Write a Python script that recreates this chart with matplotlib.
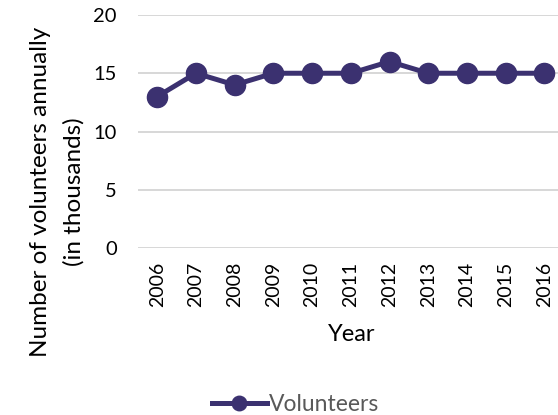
import matplotlib.pyplot as plt
import numpy as np

years = ['2006', '2007', '2008', '2009', '2010', '2011', '2012', '2013', '2014', '2015', '2016']
volunteers = [13, 15, 14, 15, 15, 15, 16, 15, 15, 15, 15]

color = '#3b3170'
plt.rcParams['font.family'] = ['Lato', 'DejaVu Sans']

fig = plt.figure(figsize=(5.58, 4.15), dpi=100)
ax = fig.add_axes([0.247, 0.402, 0.753, 0.562])
x = np.arange(len(years))
ax.plot(x, volunteers, color=color, lw=3.6, marker='o', markersize=14.5, label='Volunteers')

ax.set_ylim(0, 20)
ax.set_yticks([0, 5, 10, 15, 20])
ax.set_xlim(-0.5, 10.35)
ax.set_xticks(x)
ax.set_xticklabels(years, rotation=90, fontsize=14)
ax.tick_params(axis='y', labelsize=14.5, length=0, pad=15)
ax.tick_params(axis='x', length=0, pad=10)
ax.yaxis.grid(True, color='#d4d4d4', lw=1.3)
ax.set_axisbelow(True)
for s in ax.spines.values():
    s.set_visible(False)

# axis titles placed on the figure
fig.text(41 / 558, 0.537, 'Number of volunteers annually', rotation=90, fontsize=17.5,
         ha='center', va='center')
fig.text(74 / 558, 0.537, '(in thousands)', rotation=90, fontsize=17.5,
         ha='center', va='center')
fig.text(352 / 558, 0.193, 'Year', fontsize=17, ha='center', va='center')

leg = fig.legend(loc='center', bbox_to_anchor=(0.53, 0.026), frameon=False, fontsize=16.5,
                 handlelength=2.4, handletextpad=0.1, markerscale=0.72)
for t in leg.get_texts():
    t.set_color('#595959')

plt.savefig('out.png', dpi=100)
